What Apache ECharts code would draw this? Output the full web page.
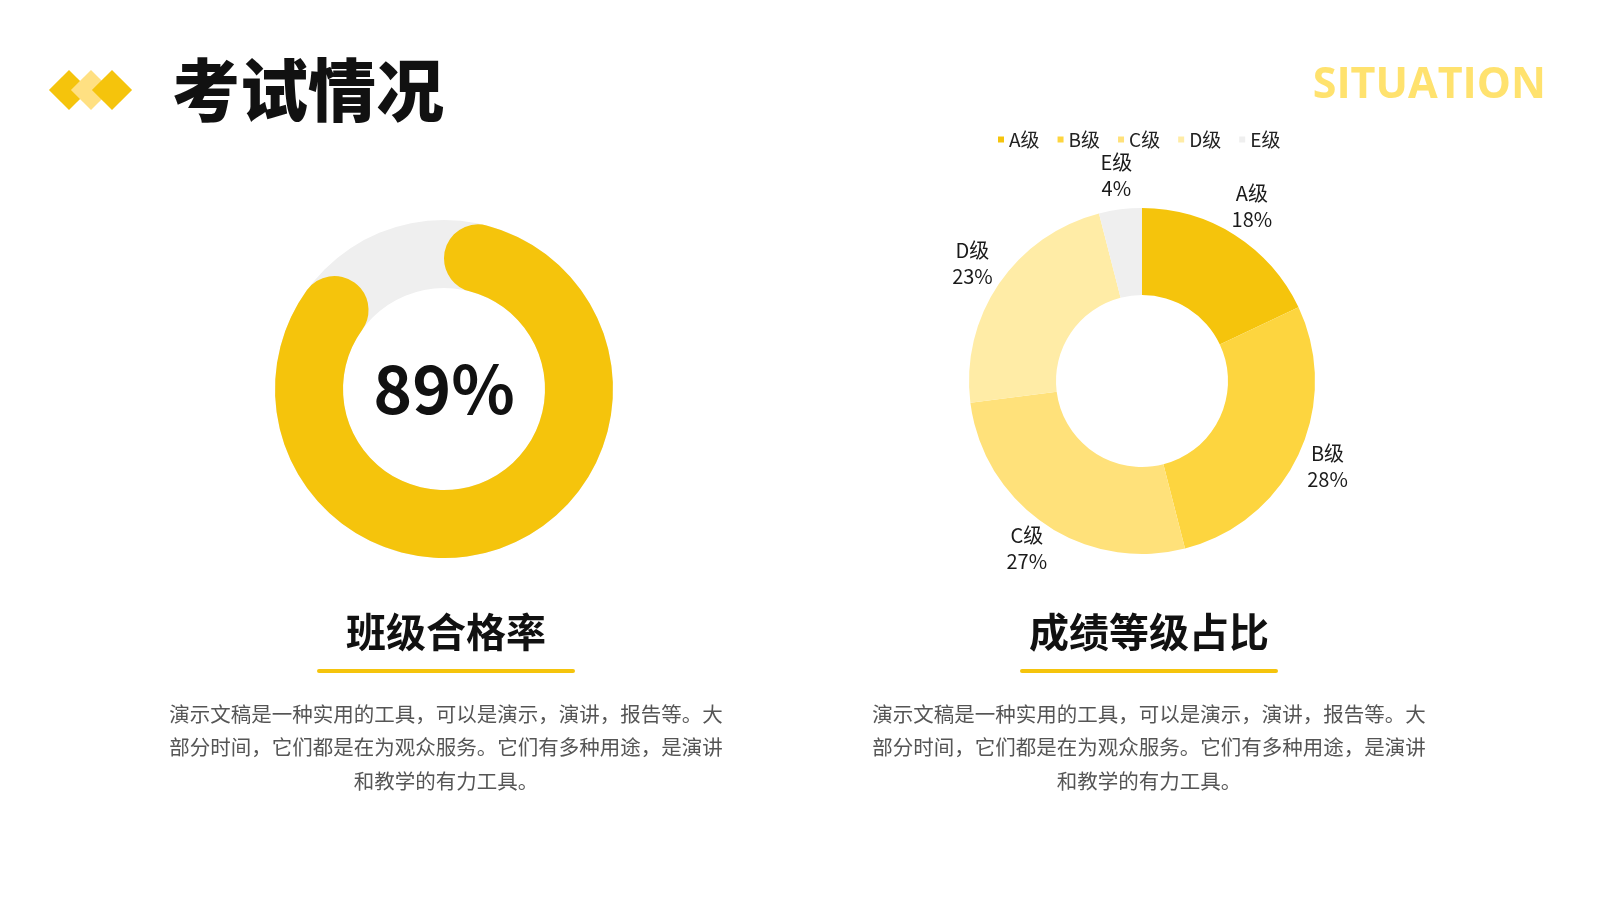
<!DOCTYPE html>
<html>
	<head>
		<meta charset="UTF-8">
		<title>考试情况</title>
		<script src="https://cdn.jsdelivr.net/npm/echarts@6/dist/echarts.min.js"></script>
		<style>
			html, body { margin: 0; padding: 0; background: #fff; }
			#main { width: 1600px; height: 900px; }
		</style>
	</head>
	<body>
		<div id="main"></div>
	</body>
</html>

<script type="text/javascript">
	// 班级合格率
	var passRate = 89;

	// 成绩等级占比
	var grades = ['A级', 'B级', 'C级', 'D级', 'E级'];
	var gradeValues = [18, 28, 27, 23, 4];
	var gradeColors = ['#F5C40C', '#FDD53F', '#FFE17A', '#FFECA6', '#EFEFEF'];

	var bodyText = [
		'演示文稿是一种实用的工具，可以是演示，演讲，报告等。大',
		'部分时间，它们都是在为观众服务。它们有多种用途，是演讲',
		'和教学的有力工具。'
	].join('\n');

	var FONT = '"Noto Sans CJK SC", "Noto Sans", sans-serif';
	var YELLOW = '#F5C40C';

	var gradeData = grades.map(function (name, i) {
		return { name: name, value: gradeValues[i], itemStyle: { color: gradeColors[i] } };
	});

	function diamond(cx, color) {
		return {
			type: 'rect',
			x: cx, y: 90,
			rotation: Math.PI / 4,
			shape: { x: -14.2, y: -14.2, width: 28.4, height: 28.4 },
			style: { fill: color }
		};
	}

	function section(cx, title) {
		return [
			{
				type: 'text', x: cx, y: 632,
				style: { text: title, font: 'bold 40px ' + FONT, fill: '#111', align: 'center', verticalAlign: 'middle' }
			},
			{
				type: 'rect',
				shape: { x: cx - 129, y: 669, width: 258, height: 4, r: 2 },
				style: { fill: YELLOW }
			},
			{
				type: 'text', x: cx, y: 697,
				style: {
					text: bodyText, fontFamily: FONT, fontSize: 20.5, lineHeight: 33.5,
					fill: '#555', align: 'center', verticalAlign: 'top'
				}
			}
		];
	}

	var chart = echarts.init(document.getElementById('main'));
	chart.setOption({
		animation: false,
		textStyle: { fontFamily: FONT },
		legend: {
			data: grades,
			left: 993,
			top: 125,
			icon: 'rect',
			itemWidth: 6,
			itemHeight: 6,
			itemGap: 18,
			selectedMode: false,
			textStyle: { fontSize: 19, color: '#222', fontFamily: FONT }
		},
		graphic: [
			diamond(69, YELLOW),
			diamond(91, '#FFE082'),
			diamond(112, YELLOW),
			{
				type: 'text', x: 172, y: 90,
				style: { text: '考试情况', font: '900 68px ' + FONT, fill: '#111', verticalAlign: 'middle' }
			},
			{
				type: 'text', x: 1546, y: 86,
				style: { text: 'SITUATION', font: 'bold 43px "Open Sans", "Noto Sans", sans-serif', fill: '#FFE26E', align: 'right', verticalAlign: 'middle' }
			}
		].concat(section(446, '班级合格率'), section(1149, '成绩等级占比')),
		series: [
			{
				// 灰色底环
				type: 'pie',
				silent: true,
				center: [444, 389],
				radius: [101, 169],
				label: { show: false },
				labelLine: { show: false },
				emphasis: { disabled: true },
				data: [{ value: 1, itemStyle: { color: '#EFEFEF' } }]
			},
			{
				type: 'pie',
				silent: true,
				center: [444, 389],
				radius: [101, 169],
				startAngle: 90,
				emphasis: { disabled: true },
				labelLine: { show: false },
				data: [
					{
						name: '合格', value: passRate,
						itemStyle: { color: YELLOW, borderRadius: 34 },
						label: {
							show: true, position: 'center', formatter: '{d}%',
							fontSize: 66, fontWeight: 'bold', color: '#111', fontFamily: FONT
						}
					},
					{
						name: '不合格', value: 100 - passRate,
						itemStyle: { color: 'transparent' },
						label: { show: false }
					}
				]
			},
			{
				type: 'pie',
				silent: true,
				center: [1142, 381],
				radius: [86, 173],
				startAngle: 90,
				label: { show: false },
				labelLine: { show: false },
				emphasis: { disabled: true },
				data: gradeData
			},
			{
				// 标签环
				type: 'pie',
				silent: true,
				center: [1142, 381],
				radius: [187, 217],
				startAngle: 90,
				emphasis: { disabled: true },
				itemStyle: { color: 'transparent' },
				labelLine: { show: false },
				label: {
					show: true, position: 'inside', formatter: '{b}\n{d}%',
					offset: [0, -2],
					fontSize: 20, lineHeight: 26, color: '#1a1a1a', fontFamily: FONT
				},
				data: grades.map(function (name, i) {
					return { name: name, value: gradeValues[i] };
				})
			}
		]
	});
</script>
